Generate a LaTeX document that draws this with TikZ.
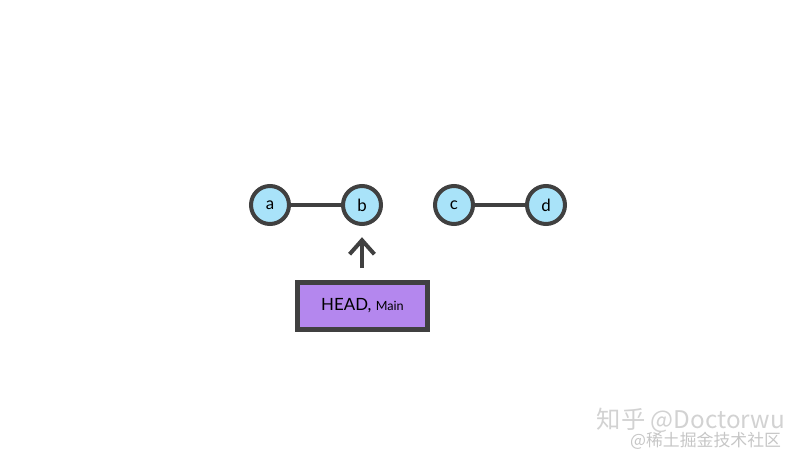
\documentclass[tikz,border=0pt]{standalone}
\usepackage{fontspec}
\setsansfont{Lato}
\newfontfamily\cjk{Noto Sans CJK SC}
\usetikzlibrary{arrows.meta}
\definecolor{edgegray}{HTML}{404040}
\definecolor{commitblue}{HTML}{A9E3F9}
\definecolor{refpurple}{HTML}{B487EE}

\begin{document}
\begin{tikzpicture}[>={Straight Barb[length=0.35cm,width=0.62cm]},
    commit/.style={circle,draw=edgegray,fill=commitblue,line width=0.1cm,
        minimum size=0.95cm,inner sep=0pt,font=\sffamily\large},
    refbox/.style={draw=edgegray,fill=refpurple,line width=0.125cm,
        minimum width=3.25cm,minimum height=1.175cm,inner sep=0pt,font=\sffamily\large},
    link/.style={draw=edgegray,line width=0.1cm}]
    \useasboundingbox (0,0) rectangle (20,11.45);
    % commits
    \node[commit] (a) at (6.75,6.325) {a};
    \node[commit] (b) at (9.05,6.325) {b};
    \node[commit] (c) at (11.35,6.325) {c};
    \node[commit] (d) at (13.65,6.325) {d};
    \draw[link] (a) -- (b);
    \draw[link] (c) -- (d);
    % HEAD points at b
    \node[refbox] (head) at (9.0625,3.8) {HEAD, {\small Main}};
    \draw[link,->,shorten <=0.3cm,shorten >=0.28cm] (head.north -| b) -- (b.south);
    % watermark
    \node[text=gray!35,font=\cjk\LARGE,anchor=east] (mark) at (19.75,0.95) {知乎 @Doctorwu};
    \node[text=gray!45,font=\cjk\large,anchor=east] (site) at (19.65,0.42) {@稀土掘金技术社区};
\end{tikzpicture}
\end{document}
